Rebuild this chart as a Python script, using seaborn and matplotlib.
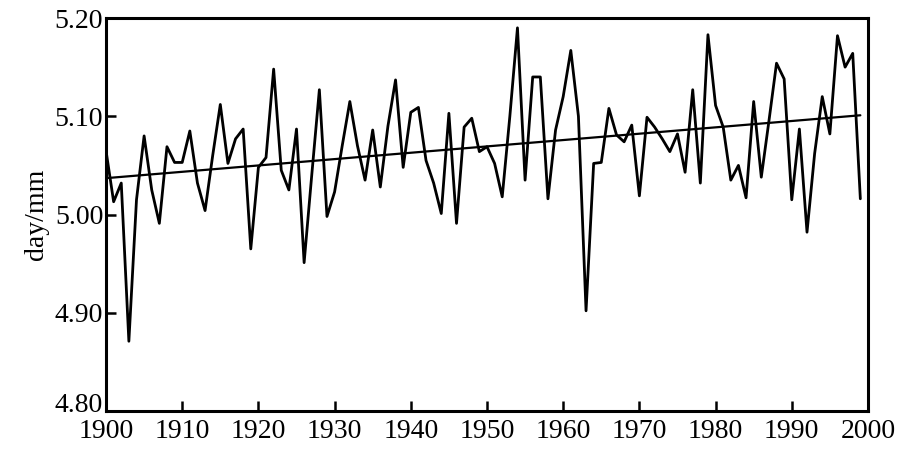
import numpy as np
import pandas as pd
import matplotlib
matplotlib.use("Agg")
import matplotlib.pyplot as plt
import matplotlib.transforms as mtransforms
import seaborn as sns

# yearly values (day/mm)
years = list(range(1900, 2000))
values = [
    5.065, 5.013, 5.032, 4.871, 5.015, 5.080, 5.025, 4.991, 5.069, 5.053,
    5.053, 5.085, 5.032, 5.004, 5.060, 5.112, 5.052, 5.077, 5.087, 4.965,
    5.048, 5.058, 5.148, 5.045, 5.025, 5.087, 4.951, 5.040, 5.127, 4.998,
    5.023, 5.070, 5.115, 5.070, 5.035, 5.086, 5.028, 5.090, 5.137, 5.048,
    5.104, 5.109, 5.055, 5.032, 5.001, 5.103, 4.991, 5.089, 5.098, 5.064,
    5.069, 5.052, 5.018, 5.100, 5.190, 5.035, 5.140, 5.140, 5.016, 5.086,
    5.120, 5.167, 5.100, 4.902, 5.052, 5.053, 5.108, 5.081, 5.074, 5.091,
    5.019, 5.099, 5.089, 5.077, 5.064, 5.082, 5.043, 5.127, 5.032, 5.183,
    5.111, 5.089, 5.035, 5.050, 5.017, 5.115, 5.038, 5.095, 5.154, 5.138,
    5.015, 5.087, 4.982, 5.062, 5.120, 5.082, 5.182, 5.150, 5.164, 5.016,
]

# linear trend line end points
trend_years = [1900, 1999]
trend_values = [5.037, 5.101]

xticks = list(range(1900, 2001, 10))
yticks = [4.80, 4.90, 5.00, 5.10, 5.20]
ytick_labels = ["4.80", "4.90", "5.00", "5.10", "5.20"]

df = pd.DataFrame({"year": years, "value": values})
trend = pd.DataFrame({"year": trend_years, "value": trend_values})

sns.set_style("ticks")
plt.rcParams['font.family'] = ['Liberation Serif', 'DejaVu Serif']
plt.rcParams['text.color'] = 'black'
plt.rcParams['axes.labelcolor'] = 'black'
plt.rcParams['xtick.color'] = 'black'
plt.rcParams['ytick.color'] = 'black'

fig = plt.figure(figsize=(9.03, 4.55), dpi=100)
ax = fig.add_axes([0.1174, 0.0967, 0.8438, 0.8637])

sns.lineplot(data=df, x="year", y="value", color="black", linewidth=2.0, ax=ax)
sns.lineplot(data=trend, x="year", y="value", color="black", linewidth=1.6, ax=ax)

ax.set_xlim(1900, 2000)
ax.set_ylim(4.80, 5.20)
ax.set_xticks(xticks)
ax.set_yticks(yticks)
ax.set_yticklabels(ytick_labels)
ax.set_xlabel("")
ax.set_ylabel("day/mm", fontsize=20, labelpad=4)

for s in ax.spines.values():
    s.set_linewidth(2.2)
    s.set_color("black")

ax.tick_params(direction="in", length=7, width=1.8, labelsize=20,
               top=False, right=False)
ax.tick_params(axis="x", pad=6)
ax.tick_params(axis="y", pad=2)

# nudge the bottom y label up a bit so it clears the 1900 label
lab = ax.get_yticklabels()[0]
lab.set_transform(lab.get_transform() + mtransforms.ScaledTranslation(0, 6 / 72, fig.dpi_scale_trans))

plt.savefig("out.png", dpi=100)
